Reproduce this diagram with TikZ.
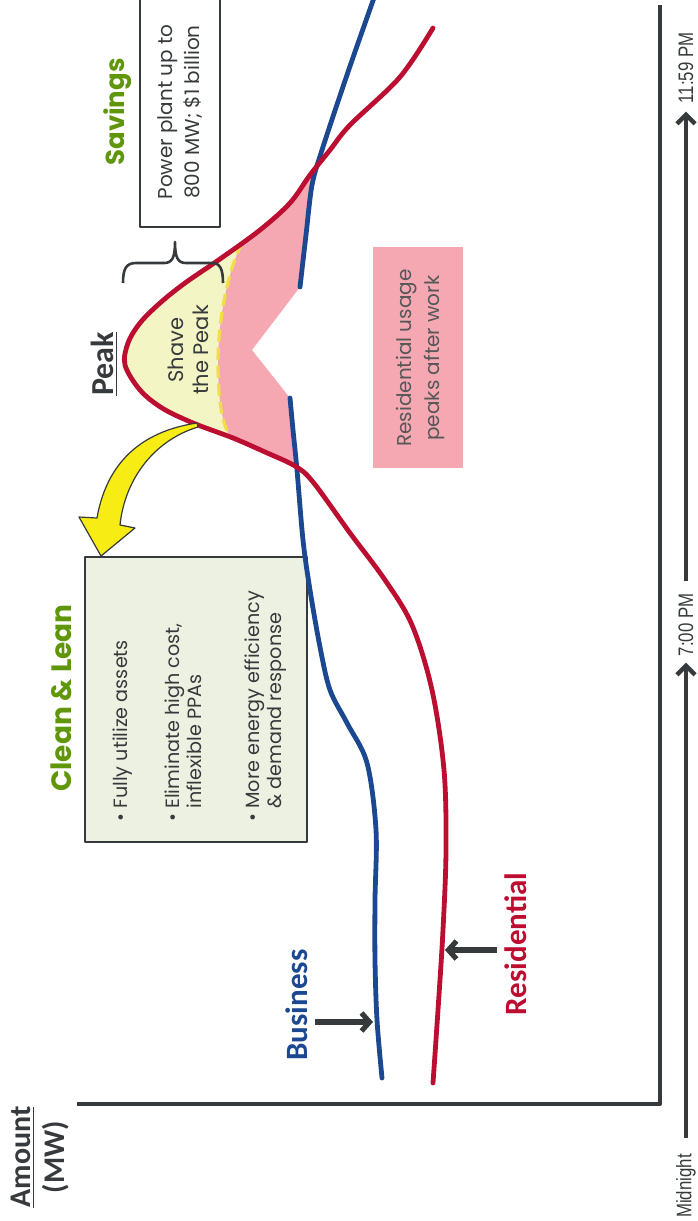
\documentclass[tikz,border=0pt]{standalone}
\usepackage{fontspec}
\setmainfont{Poppins}
\newfontfamily\calb{Carlito}
\newfontfamily\narrowf[FakeStretch=0.8]{Liberation Sans}
\usetikzlibrary{arrows.meta}
\definecolor{resred}{RGB}{188,14,48}
\definecolor{busblue}{RGB}{28,72,145}
\definecolor{pinkfill}{RGB}{245,168,178}
\definecolor{paleyellow}{RGB}{243,246,196}
\definecolor{dashyellow}{RGB}{242,222,70}
\definecolor{leangreen}{RGB}{96,150,10}
\definecolor{darkgray}{RGB}{55,58,60}
\definecolor{boxgreen}{RGB}{236,241,225}
\definecolor{arrowyellow}{RGB}{247,236,20}
\begin{document}
\begin{tikzpicture}[x=0.5pt,y=-0.5pt,line join=round,
  curve/.style={line width=2.4pt,line cap=round},
  lbl/.style={rotate=90,inner sep=0pt},
  pointer/.style={draw=darkgray,line width=2.6pt,-{Straight Barb[length=4pt,width=9pt]}},
  timearrow/.style={draw=darkgray,line width=2.2pt,-{Straight Barb[length=4.5pt,width=9pt]}},
  axisline/.style={draw=darkgray,line width=2pt},
  timetext/.style={lbl,text=darkgray,font=\narrowf\fontsize{10.5}{12}\selectfont},
  itemtext/.style={lbl,anchor=west,align=left,text=darkgray,font=\fontsize{9.6}{11}\selectfont},
]
\useasboundingbox (0,0) rectangle (697,1221);
\def\redcurve{plot[smooth,tension=0.55] coordinates {(433,1083) (438,1010) (443,930) (446,850) (444,770) (432,690) (412,625) (385,580) (350,533) (313,482) (295,466) (265,452) (233,438) (193,423) (162,408) (140,390) (125,365) (128,343) (140,323) (160,303) (185,283) (220,259) (260,230) (290,203) (310,175) (330,150) (350,125) (400,77) (433,28)}}
\def\dashpath{(242,243) .. controls (228,270) and (218,320) .. (218,363) .. controls (218,400) and (222,425) .. (231,438)}

% boxes
\node[draw=darkgray,fill=boxgreen,line width=1.2pt,minimum width=142.5pt,minimum height=111pt,rotate=90,inner sep=0pt] (cleanbox) at (196,699.5) {};
\node[draw=darkgray,fill=white,line width=1.2pt,minimum width=119pt,minimum height=40pt,rotate=90,inner sep=0pt] (savebox) at (180,108) {};
\node[fill=pinkfill,minimum width=110.5pt,minimum height=45pt,rotate=90,inner sep=0pt] (pinkbox) at (418,357.5) {};

% fills under the peak
\begin{scope}
  \clip \dashpath -- (231,600) -- (0,600) -- (0,100) -- (242,100) -- cycle;
  \fill[paleyellow] \redcurve -- cycle;
\end{scope}
\begin{scope}
  \clip \dashpath -- (231,500) -- (296,500) -- (295,462) -- (290,398) -- (252,350) -- (300,287) -- (312,180) -- (312,100) -- (242,100) -- cycle;
  \fill[pinkfill] \redcurve -- cycle;
\end{scope}
\draw[dashyellow,line width=1.6pt,dash pattern=on 6pt off 3pt] \dashpath;

% business curve
\draw[curve,busblue] plot[smooth,tension=0.55] coordinates {(382,1078) (377,1020) (375,960) (375,900) (376,830) (367,763) (347,723) (330,690) (320,647) (310,590) (303,540) (297,470) (293,430) (290,398)};
\draw[curve,busblue] plot[smooth,tension=0.5] coordinates {(300,287) (306,235) (312,185) (322,150) (348,72) (375,-5)};
% residential curve
\draw[curve,resred] \redcurve;

% yellow arrow
\draw[fill=arrowyellow,draw=darkgray,line width=0.6pt] (197,423) .. controls (150,430) and (108,455) .. (97,518) -- (79,517) -- (101,556) -- (135,528) -- (120,525) .. controls (125,478) and (155,440) .. (198,427) -- cycle;

% brace
\draw[darkgray,line width=1.3pt] (123,283) .. controls (123,269) and (126,263) .. (136,263) -- (164,263) .. controls (172,263) and (175,258) .. (175,242) .. controls (175,258) and (178,263) .. (186,263) -- (212,263) .. controls (220,263) and (223,269) .. (223,283);

% axes
\coordinate (origin) at (660,1104);
\coordinate (yend) at (77,1104);
\coordinate (xend) at (660,5);
\draw[axisline] (yend) -- (origin) -- (xend);

% texts
\node[lbl,align=center,text=darkgray,font=\calb\bfseries\fontsize{15}{17}\selectfont] (amount) at (40,1157) {\underline{Amount}\\(MW)};
\node[lbl,text=busblue,font=\calb\bfseries\fontsize{15.5}{17}\selectfont] (business) at (297,1005) {Business};
\node[lbl,text=resred,font=\calb\bfseries\fontsize{15.5}{17}\selectfont] (residential) at (516,944) {Residential};
\node[lbl,text=darkgray,font=\calb\bfseries\fontsize{16}{18}\selectfont] (peak) at (104,364) {\underline{Peak}};
\node[lbl,text=leangreen,font=\bfseries\fontsize{14}{16}\selectfont] (cleanlean) at (61,698) {Clean \& Lean};
\node[lbl,text=leangreen,font=\bfseries\fontsize{13}{15}\selectfont] (savings) at (118,112) {Savings};
\node[lbl,align=center,text=darkgray,font=\fontsize{10}{13.5}\selectfont] (savetext) at (180,112) {Power plant up to\\800 MW; \$1 billion};
\node[lbl,align=center,text=darkgray!85,font=\fontsize{10}{14}\selectfont] (pinktext) at (420,358) {Residential usage\\peaks after work};
\node[lbl,align=center,text=darkgray,font=\fontsize{10.5}{12.5}\selectfont] (shave) at (188,350) {Shave\\the Peak};
\node[itemtext] (item1) at (123,822) {• Fully utilize assets};
\node[itemtext] (item2) at (183,822) {• Eliminate high cost,\\\hphantom{• }inflexible PPAs};
\node[itemtext] (item3) at (265.5,822) {• More energy efficiency\\\hphantom{• }\& demand response};

% time labels
\node[timetext] (tmid) at (686,1186) {Midnight};
\node[timetext] (tseven) at (686,625) {7:00 PM};
\node[timetext] (televen) at (686,68) {11:59 PM};
\draw[timearrow,shorten <=8pt,shorten >=3pt] (tmid.east) -- (tseven.west);
\draw[timearrow,shorten <=6pt,shorten >=4pt] (tseven.east) -- (televen.west);

% pointers
\coordinate (bustail) at (315,1022);
\coordinate (bustip) at (373,1022);
\draw[pointer] (bustail) -- (bustip);
\coordinate (restail) at (497,950);
\coordinate (restip) at (445,950);
\draw[pointer] (restail) -- (restip);
\end{tikzpicture}
\end{document}
